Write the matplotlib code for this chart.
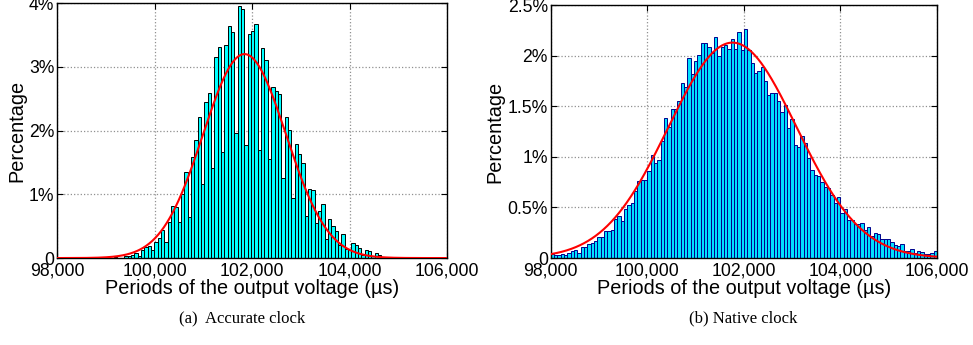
import numpy as np
import matplotlib
matplotlib.use('Agg')
from matplotlib import pyplot as plt

# accurate clock histogram (percent per bin)
acc_start = 98966.0
acc_width = 68.5
acc_pct = [0.016, 0, 0, 0.01, 0, 0,
           0.026, 0.036, 0.05, 0.08, 0.026, 0.12, 0.17, 0.19, 0.13, 0.245,
           0.32, 0.44, 0.25, 0.57, 0.81, 0.80, 0.56, 1.0, 1.35, 0.65,
           1.58, 1.85, 2.22, 1.16, 2.45, 2.59, 1.41, 3.15, 3.31, 1.67,
           3.35, 3.64, 3.54, 1.96, 3.95, 3.90, 1.78, 3.51, 3.57, 3.67,
           1.70, 3.30, 3.11, 1.55, 2.68, 2.62, 2.57, 1.26, 2.21, 2.01,
           0.95, 1.79, 1.64, 1.49, 0.66, 1.09, 1.06, 0.55, 0.74, 0.85,
           0.30, 0.61, 0.51, 0.42, 0.21, 0.38, 0.14, 0.13, 0.23, 0.20,
           0.16, 0.05, 0.13, 0.11, 0.04, 0.08, 0.05, 0.02, 0.02, 0.01,
           0.01, 0, 0.01, 0.01]
acc_fit = (101844.0, 850.0, 3.2)  # mean, sigma, peak %

# native clock histogram (percent per bin)
nat_start = 98000.0
nat_width = 8000.0 / 116
nat_pct = [0.043, 0.026, 0.033, 0.043, 0.03, 0.05, 0.066, 0.075, 0.05, 0.105,
           0.108, 0.138, 0.148, 0.17, 0.213, 0.207, 0.27, 0.27, 0.28, 0.384,
           0.417, 0.37, 0.485, 0.52, 0.545, 0.66, 0.76, 0.77, 0.77, 0.865,
           1.02, 0.94, 0.97, 1.16, 1.38, 1.30, 1.475, 1.475, 1.55, 1.73,
           1.69, 1.98, 1.82, 1.95, 2.01, 2.13, 2.13, 2.09, 2.03, 2.19,
           2.0, 2.09, 2.11, 2.07, 2.17, 2.07, 2.23, 2.06, 2.26, 2.06,
           1.93, 1.83, 1.85, 1.89, 1.75, 1.61, 1.63, 1.63, 1.55, 1.44,
           1.51, 1.29, 1.37, 1.12, 1.10, 1.21, 1.14, 0.99, 0.875, 0.825,
           0.815, 0.75, 0.70, 0.69, 0.62, 0.545, 0.60, 0.45, 0.485, 0.38,
           0.375, 0.34, 0.34, 0.35, 0.28, 0.31, 0.22, 0.25, 0.24, 0.19,
           0.19, 0.19, 0.16, 0.13, 0.115, 0.14, 0.073, 0.073, 0.09, 0.05,
           0.073, 0.056, 0.04, 0.04, 0.046, 0.073]
nat_fit = (101765.0, 1330.0, 2.13)

xticks = [98000, 100000, 102000, 104000, 106000]
xticklabels = ['98,000', '100,000', '102,000', '104,000', '106,000']
acc_yticks = [0, 1, 2, 3, 4]
acc_ylabels = ['0', '1%', '2%', '3%', '4%']
nat_yticks = [0, 0.5, 1, 1.5, 2, 2.5]
nat_ylabels = ['0', '0.5%', '1%', '1.5%', '2%', '2.5%']

plt.rcParams['font.family'] = ['Liberation Sans', 'DejaVu Sans']


def draw_panel(ax, start, width, pct, face, edge, fit, yticks, ylabels):
    centers = start + width * (np.arange(len(pct)) + 0.5)
    ax.bar(centers, pct, width=width, color=face, edgecolor=edge,
           linewidth=0.7, zorder=2)
    mu, sigma, peak = fit
    xs = np.linspace(xticks[0], xticks[-1], 800)
    ax.plot(xs, peak * np.exp(-0.5 * ((xs - mu) / sigma) ** 2),
            color='red', lw=1.5, zorder=3)
    ax.set_xlim(xticks[0], xticks[-1])
    ax.set_ylim(yticks[0], yticks[-1])
    ax.set_xticks(xticks)
    ax.set_xticklabels(xticklabels)
    ax.set_yticks(yticks)
    ax.set_yticklabels(ylabels)
    ax.tick_params(direction='in', top=True, right=True, length=4,
                   labelsize=12.7, pad=3)
    ax.tick_params(axis='y', pad=2)
    ax.grid(True, linestyle=':', color='#909090', linewidth=0.9, zorder=0)
    ax.set_axisbelow(True)
    for s in ax.spines.values():
        s.set_linewidth(1.0)
    ax.set_xlabel('Periods of the output voltage (\u00b5s)', fontsize=14.3,
                  labelpad=-0.5)
    ax.set_ylabel('Percentage', fontsize=14.3, labelpad=2)


fig = plt.figure(figsize=(9.73, 3.45), dpi=100)
ax1 = fig.add_axes([0.0586, 0.252, 0.401, 0.739])
ax2 = fig.add_axes([0.566, 0.252, 0.397, 0.733])

draw_panel(ax1, acc_start, acc_width, acc_pct, '#00ffff', 'black',
           acc_fit, acc_yticks, acc_ylabels)
draw_panel(ax2, nat_start, nat_width, nat_pct, '#00e0ff', '#00008c',
           nat_fit, nat_yticks, nat_ylabels)

fig.text(0.249, 1 - 318 / 345, '(a)  Accurate clock', ha='center',
         va='center', family='Liberation Serif', fontsize=12)
fig.text(0.764, 1 - 318 / 345, '(b) Native clock', ha='center',
         va='center', family='Liberation Serif', fontsize=12)

fig.savefig('out.png', dpi=100)
